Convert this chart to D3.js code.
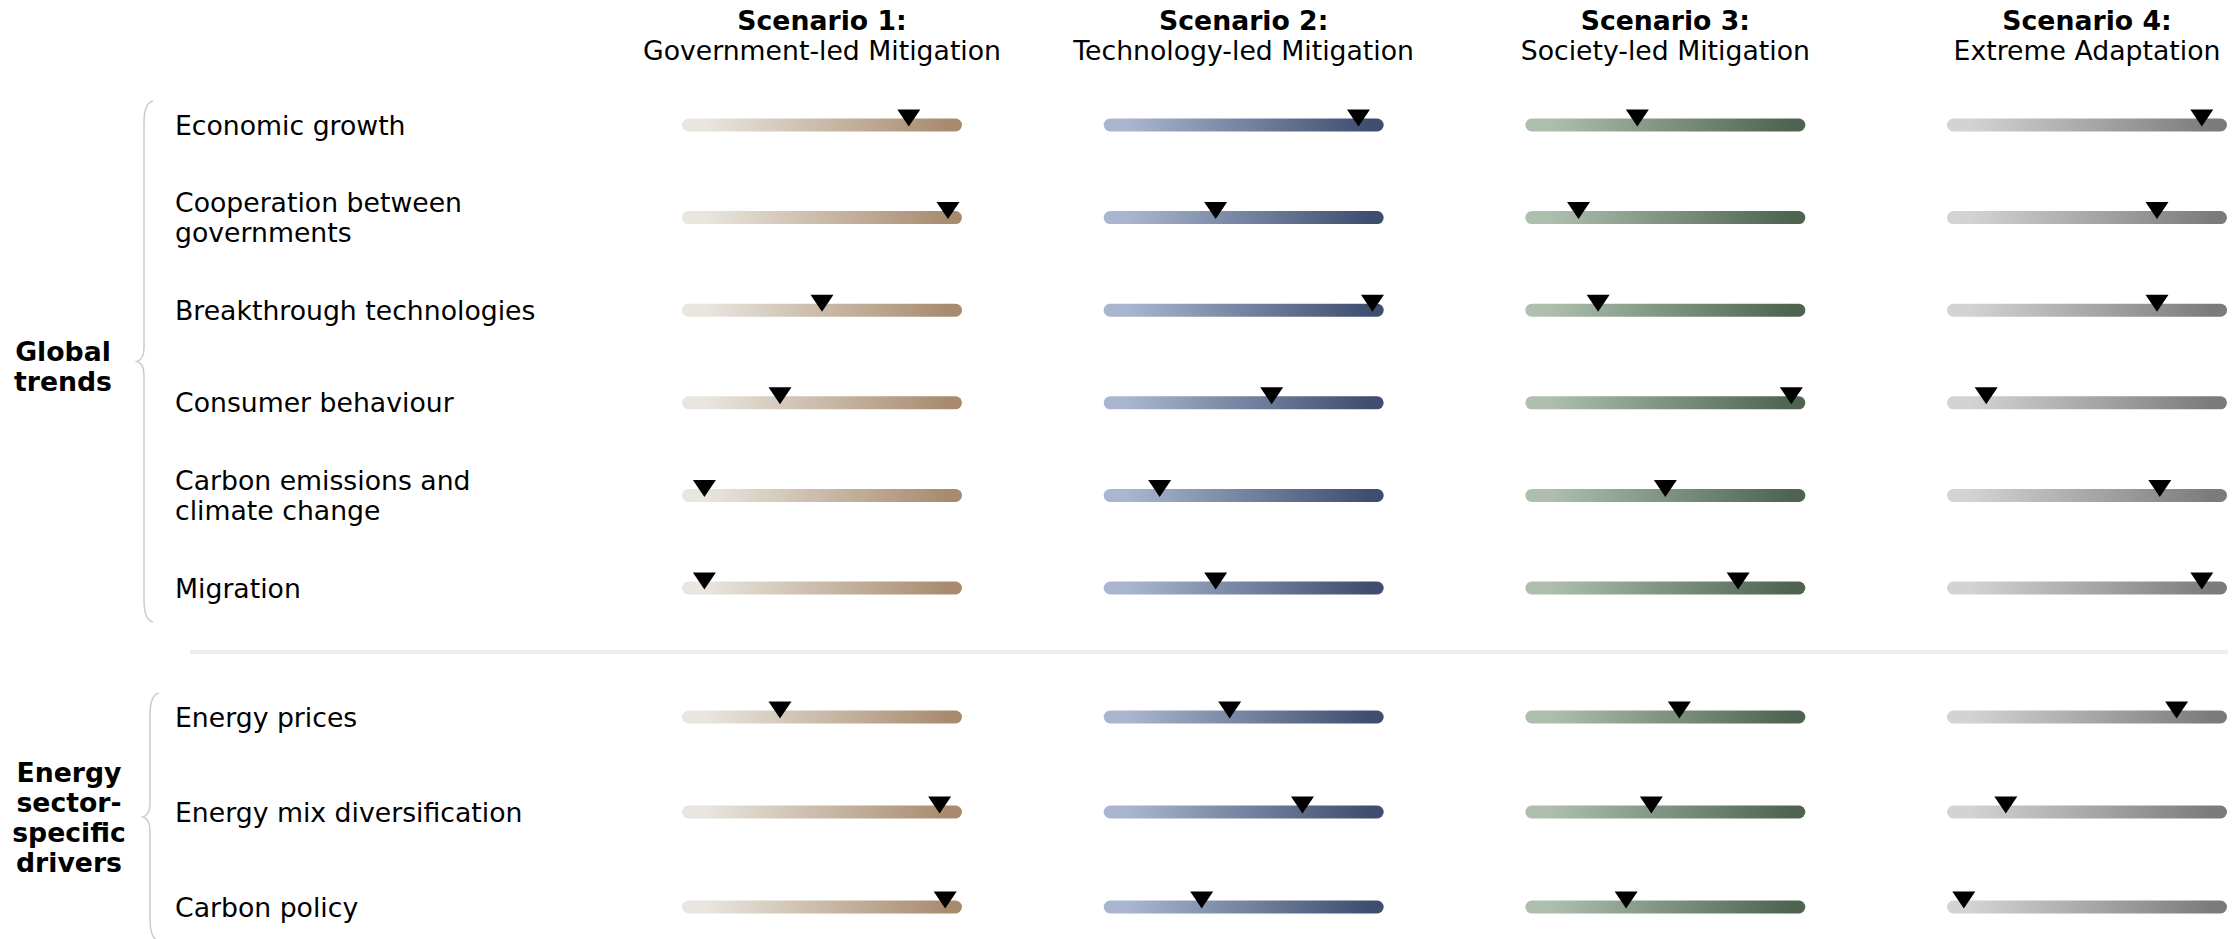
<!DOCTYPE html>
<html>
<head>
<meta charset="utf-8">
<script src="https://cdn.jsdelivr.net/npm/d3@7"></script>
<style>
  body { margin: 0; background: #fff; }
  svg { display: block; font-family: "DejaVu Sans", Verdana, sans-serif; }
</style>
</head>
<body>
<div id="chart"></div>
<script>
const WIDTH = 2239;
const HEIGHT = 939;

// scenario headers
const scenarios = ["Scenario 1:", "Scenario 2:", "Scenario 3:", "Scenario 4:"];
const scenarioNames = ["Government-led Mitigation", "Technology-led Mitigation", "Society-led Mitigation", "Extreme Adaptation"];

// bar gradient colours per scenario (light -> dark)
const lightColors = ["#e9e6df", "#aab6cf", "#aebfae", "#d3d3d3"];
const darkColors = ["#a88b6f", "#3f4e6f", "#4e6450", "#7b7b7b"];

// groups and factors ("|" = line break)
const groups = ["Global|trends", "Energy|sector-|specific|drivers"];
const globalFactors = ["Economic growth", "Cooperation between|governments", "Breakthrough technologies",
    "Consumer behaviour", "Carbon emissions and|climate change", "Migration"];
const energyFactors = ["Energy prices", "Energy mix diversification", "Carbon policy"];

// marker position along the bar (0 = left end, 1 = right end), one value per factor
const scenario1 = [0.81, 0.95, 0.50, 0.35, 0.08, 0.08, 0.35, 0.92, 0.94];
const scenario2 = [0.91, 0.40, 0.96, 0.60, 0.20, 0.40, 0.45, 0.71, 0.35];
const scenario3 = [0.40, 0.19, 0.26, 0.95, 0.50, 0.76, 0.55, 0.45, 0.36];
const scenario4 = [0.91, 0.75, 0.75, 0.14, 0.76, 0.91, 0.82, 0.21, 0.06];

const values = [scenario1, scenario2, scenario3, scenario4];

const BAR_W = 280;
const BAR_H = 13;
const LINE_H = 30;
const FONT = 26.7;

const svg = d3.select("#chart")
    .append("svg")
    .attr("width", WIDTH)
    .attr("height", HEIGHT);

const defs = svg.append("defs");

const colX = d3.scalePoint()
    .domain(scenarios)
    .range([822, 2087]);

const groupRows = [
    d3.scalePoint().domain(globalFactors).range([125, 588]),
    d3.scalePoint().domain(energyFactors).range([717, 907])
];
const groupFactors = [globalFactors, energyFactors];
const braceX = [144, 150];
const labelShift = [5, 0];

const allFactors = globalFactors.concat(energyFactors);
const rowY = f => (globalFactors.includes(f) ? groupRows[0] : groupRows[1])(f);

// multi-line text helper, vertically centred on y
const addLines = (sel, lines, x, y, anchor, weight) => {
    const t = sel.append("text")
        .attr("text-anchor", anchor)
        .attr("font-size", FONT)
        .attr("font-weight", weight)
        .attr("fill", "#000");
    const first = y - (lines.length - 1) * LINE_H / 2 + 9.5;
    lines.forEach((l, i) => {
        t.append("tspan").attr("x", x).attr("y", first + i * LINE_H).text(l);
    });
};

// headers
scenarios.forEach((s, i) => {
    const cx = colX(s);
    svg.append("text")
        .attr("x", cx).attr("y", 30)
        .attr("text-anchor", "middle")
        .attr("font-size", FONT)
        .attr("font-weight", "bold")
        .text(s);
    svg.append("text")
        .attr("x", cx).attr("y", 60)
        .attr("text-anchor", "middle")
        .attr("font-size", FONT)
        .text(scenarioNames[i]);

    const grad = defs.append("linearGradient")
        .attr("id", "grad" + i)
        .attr("x1", "0%").attr("x2", "100%")
        .attr("y1", "0%").attr("y2", "0%");
    grad.append("stop").attr("offset", "8%").attr("stop-color", lightColors[i]);
    grad.append("stop").attr("offset", "95%").attr("stop-color", darkColors[i]);
});

// group labels + braces
groups.forEach((g, gi) => {
    const rows = groupRows[gi];
    const facs = groupFactors[gi];
    const top = rows(facs[0]) - 24;
    const bottom = rows(facs[facs.length - 1]) + 34;
    const mid = (top + bottom) / 2;
    const bx = braceX[gi];

    const p = d3.path();
    p.moveTo(bx + 9, top);
    p.quadraticCurveTo(bx, top + 2, bx, top + 22);
    p.lineTo(bx, mid - 14);
    p.quadraticCurveTo(bx, mid - 2, bx - 7, mid);
    p.quadraticCurveTo(bx, mid + 2, bx, mid + 14);
    p.lineTo(bx, bottom - 22);
    p.quadraticCurveTo(bx, bottom - 2, bx + 9, bottom);

    svg.append("path")
        .attr("d", p.toString())
        .attr("fill", "none")
        .attr("stroke", "#cccccc")
        .attr("stroke-width", 1.5);

    addLines(svg, g.split("|"), bx - 81, mid + labelShift[gi], "middle", "bold");
});

// separator between groups
svg.append("line")
    .attr("x1", 190).attr("x2", 2228)
    .attr("y1", 652).attr("y2", 652)
    .attr("stroke", "#eeeeee")
    .attr("stroke-width", 4);

// factor labels
allFactors.forEach(f => {
    addLines(svg, f.split("|"), 175, rowY(f), "start", "normal");
});

// bars and markers
scenarios.forEach((s, i) => {
    const x = d3.scaleLinear()
        .domain([0, 1])
        .range([colX(s) - BAR_W / 2, colX(s) + BAR_W / 2]);

    const col = svg.append("g");

    col.selectAll("rect")
        .data(allFactors)
        .join("rect")
        .attr("x", x(0))
        .attr("y", d => rowY(d) - BAR_H / 2)
        .attr("width", x(1) - x(0))
        .attr("height", BAR_H)
        .attr("rx", BAR_H / 2)
        .attr("fill", `url(#grad${i})`);

    col.selectAll("path")
        .data(allFactors.map((f, j) => ({ f, v: values[i][j] })))
        .join("path")
        .attr("d", d => {
            const mx = x(d.v);
            const y = rowY(d.f);
            return `M${mx - 11.5},${y - 15.5}L${mx + 11.5},${y - 15.5}L${mx},${y + 1.5}Z`;
        })
        .attr("fill", "#000");
});
</script>
</body>
</html>
